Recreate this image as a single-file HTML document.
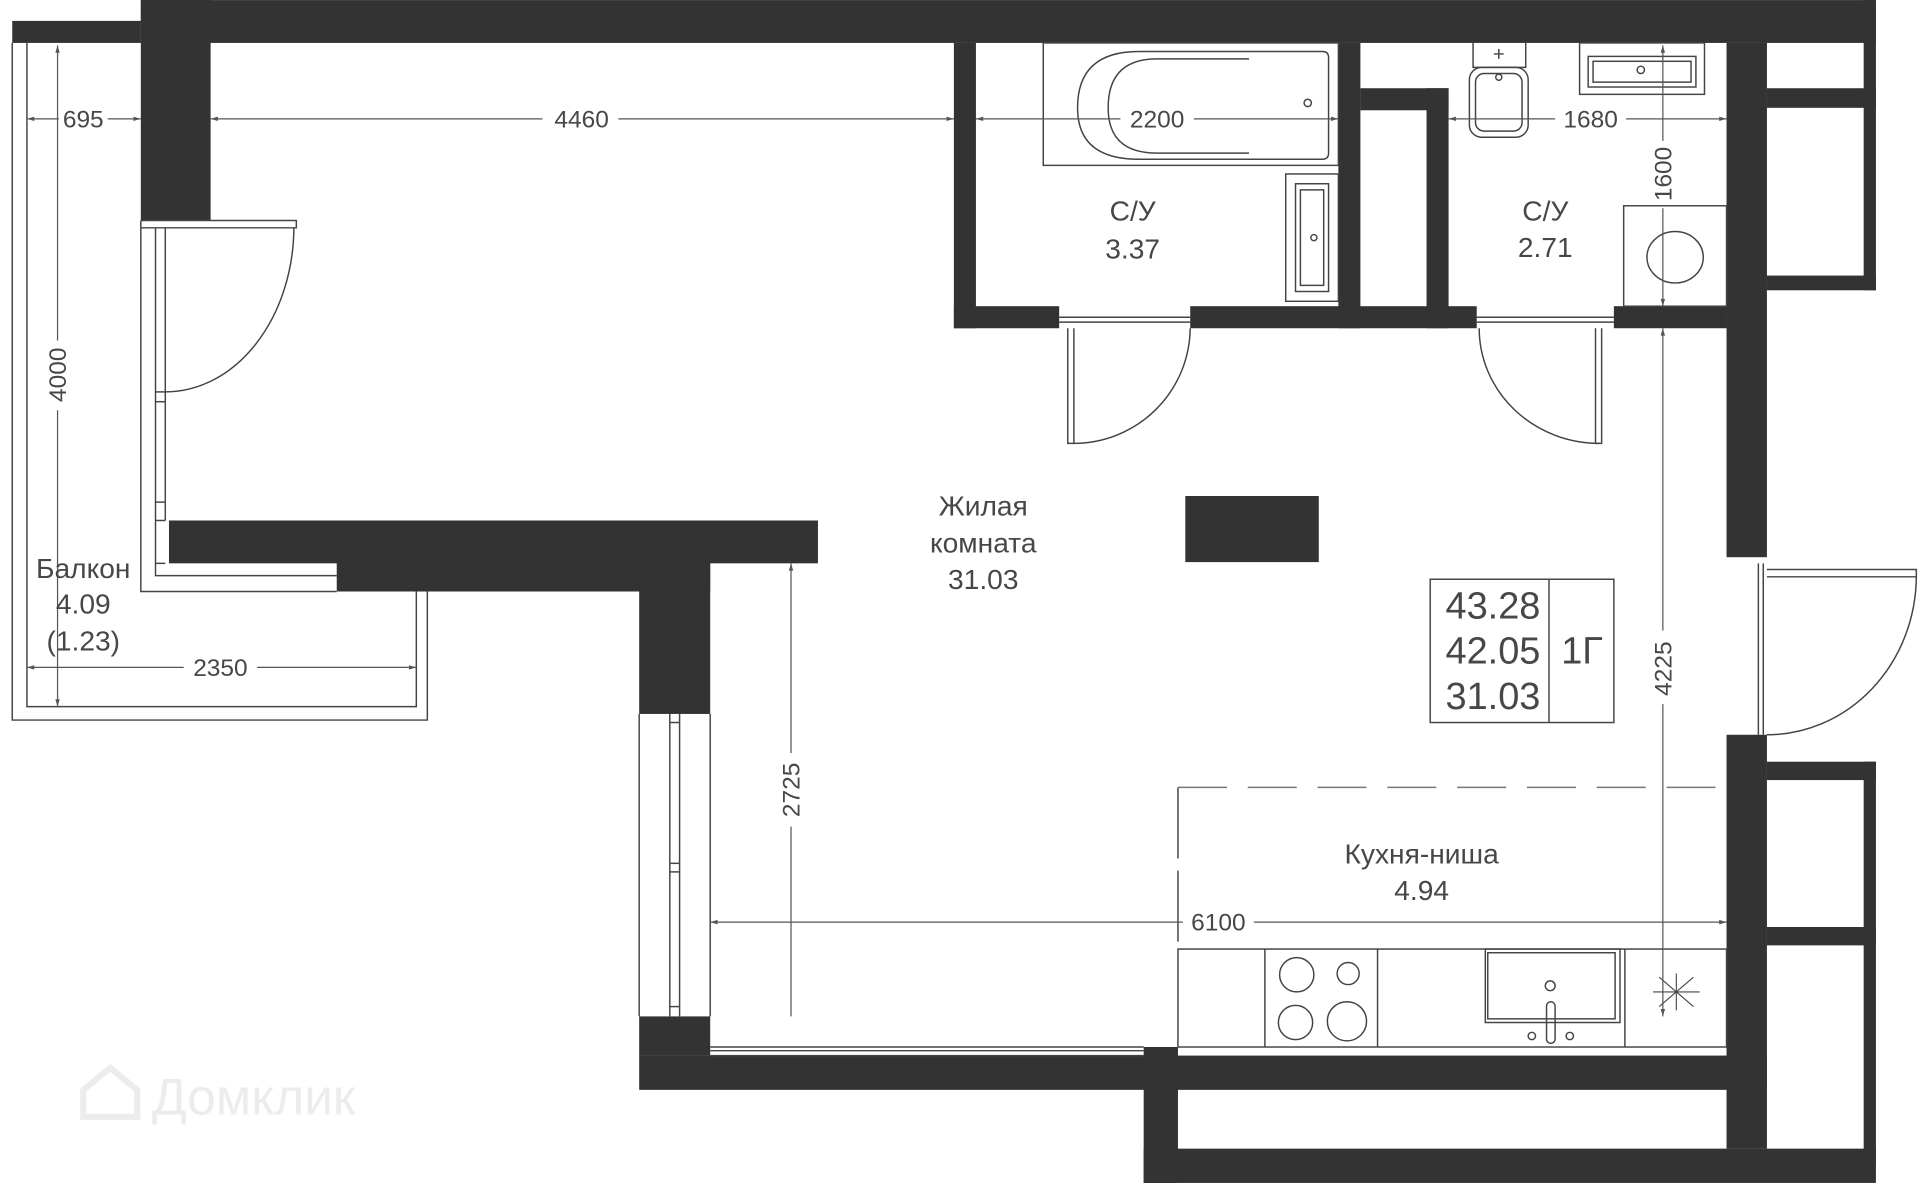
<!DOCTYPE html>
<html><head><meta charset="utf-8"><style>
html,body{margin:0;padding:0;background:#fff;}
svg{display:block;}
text{font-family:"Liberation Sans",sans-serif;fill:#474747;}
</style></head><body>
<svg width="1920" height="1183" viewBox="0 0 1568 966" xmlns="http://www.w3.org/2000/svg">
<rect width="1568" height="966" fill="#fff"/>
<defs>
<marker id="a" viewBox="0 0 10 10" refX="10" refY="5" markerWidth="10" markerHeight="6" orient="auto-start-reverse" markerUnits="userSpaceOnUse"><path d="M0,2 L10,5 L0,8z" fill="#555"/></marker>
</defs>
<g fill="#333">
<rect x="115" y="0" width="1417" height="35"/>
<rect x="10" y="17" width="105" height="18"/>
<rect x="115" y="0" width="57" height="180"/>
<rect x="138" y="425" width="530" height="35"/>
<rect x="275" y="458" width="305" height="25"/>
<rect x="522" y="458" width="58" height="125"/>
<rect x="522" y="830" width="58" height="32"/>
<rect x="522" y="862" width="921" height="28"/>
<rect x="934" y="855" width="28" height="111"/>
<rect x="934" y="938" width="598" height="28"/>
<rect x="1410" y="855" width="33" height="83"/>
<rect x="1522" y="622" width="10" height="330"/>
<rect x="1443" y="622" width="89" height="15"/>
<rect x="1443" y="757" width="89" height="15"/>
<rect x="1410" y="35" width="33" height="420"/>
<rect x="1410" y="600" width="33" height="255"/>
<rect x="1522" y="0" width="10" height="237"/>
<rect x="1443" y="72" width="89" height="16"/>
<rect x="1443" y="225" width="89" height="12"/>
<rect x="779" y="35" width="18" height="233"/>
<rect x="779" y="250" width="86" height="18"/>
<rect x="972" y="250" width="234" height="18"/>
<rect x="1093" y="35" width="18" height="233"/>
<rect x="1111" y="72" width="72" height="18"/>
<rect x="1165" y="72" width="18" height="196"/>
<rect x="1318" y="250" width="92" height="18"/>
<rect x="968" y="405" width="109" height="54"/>
</g>
<g fill="none" stroke="#444" stroke-width="1.2">
<path d="M10,35 V588 H349 V483"/>
<path d="M22,35 V577 H340 V483"/>
<path d="M115,180 V483 H275"/>
<path d="M127,186 V470 H275"/>
<path d="M135,186 V425"/>
<path d="M115,180 H242 V186 H115"/>
<line x1="127" y1="320" x2="135" y2="320"/><line x1="127" y1="328" x2="135" y2="328"/>
<line x1="127" y1="410" x2="135" y2="410"/><line x1="127" y1="425" x2="135" y2="425"/>
<line x1="127" y1="460" x2="135" y2="460"/>
<path d="M240,186 A105,135 0 0 1 135,320"/>
<path d="M522,583 V830 M580,583 V830 M547,583 V830 M555,583 V830"/>
<line x1="547" y1="590" x2="555" y2="590"/><line x1="547" y1="705" x2="555" y2="705"/><line x1="547" y1="712" x2="555" y2="712"/><line x1="547" y1="822" x2="555" y2="822"/>
<path d="M580,855 H934 M580,862 H934 M580,858 H934"/>
<path d="M865,259 H972 M865,263 H972"/>
<path d="M872,268 V362 H877 V268"/>
<path d="M972,268 A95,95 0 0 1 877,362"/>
<path d="M1206,259 H1318 M1206,263 H1318"/>
<path d="M1303,268 V362 H1308 V268"/>
<path d="M1208,268 A98,94 0 0 0 1306,362"/>
<path d="M1436,460 V600 M1440,460 V600"/>
<path d="M1443,465 H1565 V471 H1443"/>
<path d="M1565,471 A122,130 0 0 1 1443,600"/>
<rect x="852" y="35" width="241" height="100"/>
<path d="M1080,42 H930 Q880,42 880,88 Q880,130 930,130 H1080 Q1085,130 1085,125 V47 Q1085,42 1080,42"/>
<path d="M1020,48 H945 Q905,48 905,88 Q905,125 945,125 H1020"/>
<circle cx="1068" cy="84" r="3"/>
<rect x="1050" y="142" width="43" height="104"/>
<rect x="1058" y="150" width="27" height="88"/>
<rect x="1062" y="155" width="19" height="78"/>
<circle cx="1073" cy="194" r="2.5"/>
<path d="M1203,35 V55 H1246 V35"/>
<rect x="1200" y="55" width="48" height="57" rx="10"/>
<rect x="1205" y="60" width="38" height="47" rx="7"/>
<circle cx="1224" cy="63" r="2.5"/>
<path d="M1224,40 V48 M1220,44 H1228"/>
<rect x="1290" y="35" width="102" height="42"/>
<rect x="1297" y="46" width="88" height="25"/>
<rect x="1301" y="50" width="80" height="17"/>
<circle cx="1340" cy="57" r="3"/>
<rect x="1326" y="168" width="84" height="82"/>
<ellipse cx="1368" cy="210" rx="23" ry="21"/>
<path d="M962,643 V775" stroke-dasharray="58,10"/>
<path d="M962,643 H1410" stroke-dasharray="40,17" stroke="#777"/>
<rect x="962" y="775" width="448" height="80"/>
<line x1="1033" y1="775" x2="1033" y2="855"/>
<line x1="1125" y1="775" x2="1125" y2="855"/>
<line x1="1327" y1="775" x2="1327" y2="855"/>
<circle cx="1059" cy="796" r="14"/><circle cx="1101" cy="795" r="9"/>
<circle cx="1058" cy="835" r="14"/><circle cx="1100" cy="834" r="16"/>
<rect x="1213" y="775" width="110" height="60"/>
<rect x="1215" y="778" width="104" height="54"/>
<rect x="1263" y="818" width="7" height="34" rx="3.5"/>
<circle cx="1266" cy="805" r="4"/><circle cx="1251" cy="846" r="3"/><circle cx="1282" cy="846" r="3"/>
<path d="M1350,810 L1388,810 M1369,795 L1369,825 M1355,798 L1383,822 M1383,798 L1355,822" stroke-width="0.9"/>
<rect x="1168" y="473" width="150" height="117"/>
<line x1="1265" y1="473" x2="1265" y2="590"/>
</g>
<g stroke="#555" stroke-width="1" fill="none">
<line x1="22" y1="97" x2="48" y2="97" marker-start="url(#a)"/><line x1="88" y1="97" x2="115" y2="97" marker-end="url(#a)"/>
<line x1="172" y1="97" x2="443" y2="97" marker-start="url(#a)"/><line x1="505" y1="97" x2="779" y2="97" marker-end="url(#a)"/>
<line x1="797" y1="97" x2="915" y2="97" marker-start="url(#a)"/><line x1="975" y1="97" x2="1093" y2="97" marker-end="url(#a)"/>
<line x1="1183" y1="97" x2="1270" y2="97" marker-start="url(#a)"/><line x1="1328" y1="97" x2="1410" y2="97" marker-end="url(#a)"/>
<line x1="47" y1="37" x2="47" y2="278" marker-start="url(#a)"/><line x1="47" y1="335" x2="47" y2="577" marker-end="url(#a)"/>
<line x1="22" y1="545" x2="150" y2="545" marker-start="url(#a)"/><line x1="210" y1="545" x2="340" y2="545" marker-end="url(#a)"/>
<line x1="646" y1="460" x2="646" y2="615" marker-start="url(#a)"/><line x1="646" y1="675" x2="646" y2="830"/>
<line x1="580" y1="753" x2="966" y2="753" marker-start="url(#a)"/><line x1="1024" y1="753" x2="1410" y2="753" marker-end="url(#a)"/>
<line x1="1358" y1="37" x2="1358" y2="115" marker-start="url(#a)"/><line x1="1358" y1="170" x2="1358" y2="250" marker-end="url(#a)"/>
<line x1="1358" y1="268" x2="1358" y2="515" marker-start="url(#a)"/><line x1="1358" y1="575" x2="1358" y2="830" marker-end="url(#a)"/>
</g>
<g font-size="20" text-anchor="middle">
<text x="68" y="104">695</text>
<text x="475" y="104">4460</text>
<text x="945" y="104">2200</text>
<text x="1299" y="104">1680</text>
<text x="180" y="552">2350</text>
<text x="995" y="760">6100</text>
<text transform="translate(54,306) rotate(-90)">4000</text>
<text transform="translate(653,645) rotate(-90)">2725</text>
<text transform="translate(1365,142) rotate(-90)">1600</text>
<text transform="translate(1365,546) rotate(-90)">4225</text>
</g>
<g font-size="23" text-anchor="middle">
<text x="925" y="180">С/У</text><text x="925" y="211">3.37</text>
<text x="1262" y="180">С/У</text><text x="1262" y="210">2.71</text>
<text x="803" y="421">Жилая</text><text x="803" y="451">комната</text><text x="803" y="481">31.03</text>
<text x="68" y="472">Балкон</text><text x="68" y="501">4.09</text><text x="68" y="531">(1.23)</text>
<text x="1161" y="705">Кухня-ниша</text><text x="1161" y="735">4.94</text>
</g>
<g font-size="31" text-anchor="end">
<text x="1258" y="505">43.28</text><text x="1258" y="542">42.05</text><text x="1258" y="579">31.03</text>
</g>
<text x="1292" y="542" font-size="31" text-anchor="middle">1Г</text>
<g opacity="0.22">
<path d="M68,890 L90,872 L112,890 V912 H68 Z" fill="none" stroke="#aaa" stroke-width="5"/>
<text x="124" y="910" font-size="42" style="fill:#aaa">Домклик</text>
</g>
</svg>
</body></html>
